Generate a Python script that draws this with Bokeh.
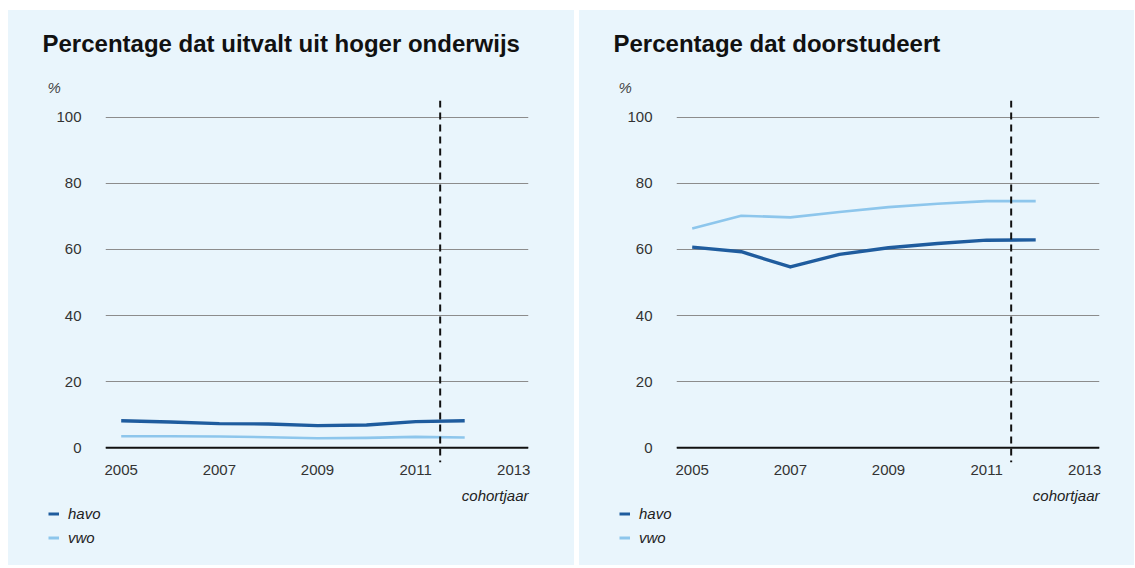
from bokeh.plotting import figure
from bokeh.models import (Span, Label, Legend, LegendItem, FixedTicker, Range1d, Spacer)
from bokeh.layouts import row, column
from bokeh.embed import file_html
from bokeh.resources import INLINE

# ---- data ----
years = [2005, 2006, 2007, 2008, 2009, 2010, 2011, 2012]
uitval_havo = [8.2, 7.8, 7.3, 7.2, 6.7, 6.9, 7.9, 8.2]
uitval_vwo = [3.5, 3.5, 3.4, 3.2, 2.9, 3.0, 3.3, 3.1]
door_havo = [60.7, 59.3, 54.7, 58.5, 60.5, 61.8, 62.8, 62.9]
door_vwo = [66.3, 70.2, 69.7, 71.3, 72.8, 73.8, 74.6, 74.6]
x_ticks = [2005, 2007, 2009, 2011, 2013]
y_ticks = [0, 20, 40, 60, 80, 100]
series_names = ["havo", "vwo"]
titles = ["Percentage dat uitvalt uit hoger onderwijs", "Percentage dat doorstudeert"]
x_title = "cohortjaar"
y_unit = "%"
cutoff_year = 2011.5

BG = "#E9F5FC"
HAVO = "#1F5C9E"
VWO = "#8DC6EC"
FONT = "Liberation Sans"

HEAD_H = 90
MAIN_H = 385
FOOT_H = 80
FRAME_L = 97
FRAME_W = 423


def blank(width, height):
    f = figure(width=width, height=height, output_backend="svg", toolbar_location=None,
               x_range=Range1d(0, width), y_range=Range1d(0, height),
               x_axis_location=None, y_axis_location=None, frame_align=False,
               min_border=0, background_fill_color=BG, border_fill_color=BG)
    f.outline_line_color = None
    f.grid.visible = False
    return f


def make_panel(title, havo, vwo, width):
    # header with title and unit
    head = blank(width, HEAD_H)
    head.add_layout(Label(x=34, y=57, text=title,
                          text_font=FONT, text_font_size="24px", text_font_style="bold",
                          text_color="#111111", text_baseline="middle", text_align="left"))
    head.add_layout(Label(x=39, y=13, text=y_unit,
                          text_font=FONT, text_font_size="15px", text_font_style="italic",
                          text_color="#444444", text_baseline="middle", text_align="left"))

    # main chart
    x0, x1 = 2004.68, 2013.3
    y0, y1 = -4.45, 105.05
    p = figure(width=width, height=MAIN_H, output_backend="svg", toolbar_location=None,
               x_range=Range1d(x0, x1), y_range=Range1d(y0, y1), frame_align=False,
               min_border_left=FRAME_L, min_border_right=width - FRAME_L - FRAME_W,
               min_border_top=0, min_border_bottom=MAIN_H - 362,
               background_fill_color=BG, border_fill_color=BG)
    p.outline_line_color = None
    p.xgrid.visible = False
    p.ygrid.grid_line_color = "#8C8C8C"
    p.ygrid.grid_line_width = 1

    p.xaxis.ticker = FixedTicker(ticks=x_ticks)
    p.yaxis.ticker = FixedTicker(ticks=y_ticks)
    for ax in (p.xaxis, p.yaxis):
        ax.axis_line_color = None
        ax.major_tick_line_color = None
        ax.minor_tick_line_color = None
        ax.major_tick_out = 0
        ax.major_tick_in = 0
        ax.minor_tick_out = 0
        ax.minor_tick_in = 0
        ax.major_label_text_font = FONT
        ax.major_label_text_font_size = "15px"
        ax.major_label_text_color = "#333333"
    p.xaxis.major_label_standoff = 2
    p.yaxis.major_label_standoff = 24

    p.add_layout(Span(location=0, dimension="width", line_color="#111111", line_width=2))
    p.line(years, havo, line_color=HAVO, line_width=3.4, line_join="round")
    p.line(years, vwo, line_color=VWO, line_width=2.6, line_join="round")
    p.add_layout(Span(location=cutoff_year, dimension="height", line_color="#111111",
                      line_width=2, line_dash="7 5"))

    # footer with axis title and legend
    foot = blank(width, FOOT_H)
    foot.add_layout(Label(x=FRAME_L + FRAME_W, y=FOOT_H - 10, text=x_title,
                          text_font=FONT, text_font_size="15px", text_font_style="italic",
                          text_color="#222222", text_baseline="middle", text_align="right"))
    # legend proxies: the series themselves, lying outside this footer's ranges
    lh = foot.line(years, havo, line_color=HAVO, line_width=3)
    lv = foot.line(years, vwo, line_color=VWO, line_width=3)
    legend = Legend(items=[LegendItem(label=series_names[0], renderers=[lh]),
                           LegendItem(label=series_names[1], renderers=[lv])],
                    location=(40, 19), orientation="vertical",
                    background_fill_alpha=0, border_line_color=None,
                    glyph_width=11, glyph_height=15, label_height=15,
                    label_standoff=9, spacing=7, padding=0, margin=0,
                    label_text_font=FONT, label_text_font_size="15px",
                    label_text_font_style="italic", label_text_color="#222222")
    foot.add_layout(legend, "center")

    return column(head, p, foot, styles={"background-color": BG})


left = make_panel(titles[0], uitval_havo, uitval_vwo, 566)
right = make_panel(titles[1], door_havo, door_vwo, 555)
layout = column(Spacer(height=10),
                row(Spacer(width=8), left, Spacer(width=5), right))

open("out.html", "w").write(file_html(layout, INLINE))
